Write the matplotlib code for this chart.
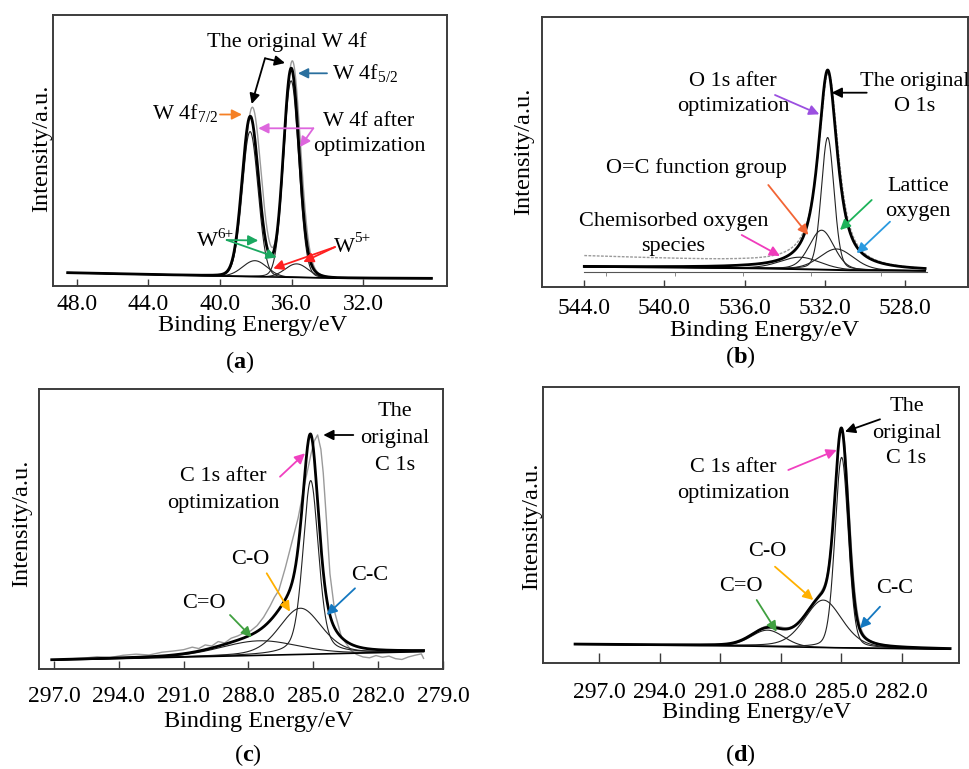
import numpy as np
import matplotlib
matplotlib.use("Agg")
import matplotlib.pyplot as plt

plt.rcParams['font.family'] = ['Liberation Serif', 'DejaVu Serif']
plt.rcParams['mathtext.fontset'] = 'custom'
plt.rcParams['mathtext.rm'] = 'Liberation Serif'
plt.rcParams['mathtext.it'] = 'Liberation Serif:italic'
plt.rcParams['mathtext.bf'] = 'Liberation Serif:bold'

# ---------------- data ----------------
# Panel (a): W 4f
a_ticks = [48.0, 44.0, 40.0, 36.0, 32.0]
a_range = [48.5, 28.2]
a_base_x = [48.5, 40.2, 33.5, 28.2]
a_base_y = [4.9, 3.7, 2.9, 2.8]
a_comp_center = [38.32, 36.03, 38.05, 35.72]
a_comp_height = [53.5, 72.5, 5.9, 5.0]
a_comp_fwhm = [1.05, 1.0, 1.6, 1.5]
a_comp_eta = [0.06, 0.06, 0.0, 0.0]
a_orig_center = [38.20, 35.97, 38.05, 35.72]
a_orig_height = [56.5, 75.0, 5.9, 5.0]
a_orig_fwhm = [1.12, 1.06, 1.6, 1.5]

# Panel (b): O 1s
b_ticks = [544.0, 540.0, 536.0, 532.0, 528.0]
b_range = [544.0, 527.0]
b_base_x = [544.0, 536.0, 533.0, 531.0, 527.0]
b_base_y = [7.5, 7.0, 6.6, 6.2, 6.0]
b_orig_base_y = [11.5, 9.4, 8.3, 6.4, 6.0]
b_comp_center = [531.86, 532.16, 531.41, 533.24]
b_comp_height = [49.0, 14.6, 7.8, 4.4]
b_comp_fwhm = [0.75, 1.45, 2.0, 2.4]
b_comp_eta = [0.2, 0.2, 0.2, 0.2]
b_env = [531.86, 74.0, 1.15, 0.85]      # center, height, fwhm, eta
b_orig = [531.82, 72.5, 1.2, 0.85]
b_inner_line_y = 5.67
b_inner_ticks = [542.9, 539.5, 536.1, 532.7, 529.2]

# Panel (c): C 1s
c_ticks = [297.0, 294.0, 291.0, 288.0, 285.0, 282.0, 279.0]
c_range = [297.1, 279.9]
c_base_x = [297.1, 279.9]
c_base_y = [3.2, 6.2]
c_comp_center = [285.12, 285.60, 287.50]
c_comp_height = [62.0, 16.5, 5.2]
c_comp_fwhm = [0.85, 2.3, 4.2]
c_comp_eta = [0.4, 0.3, 0.15]
c_orig_x = [297.1, 296.3, 295.6, 295.0, 294.4, 293.8, 293.2, 292.6, 292.0, 291.5,
            291.0, 290.6, 290.3, 290.0, 289.7, 289.4, 289.1, 288.8, 288.5, 288.2,
            287.9, 287.6, 287.3, 287.0, 286.8, 286.6, 286.3, 286.0, 285.7, 285.4,
            285.1, 284.95, 284.8, 284.65, 284.54, 284.39, 284.23, 284.0, 283.7, 283.24,
            283.0, 282.7, 282.4, 282.1, 281.8, 281.5, 281.2, 280.9, 280.6, 280.3,
            280.0, 279.9]
c_orig_y = [3.2, 3.6, 3.9, 4.4, 4.1, 4.9, 5.3, 5.0, 6.0, 6.4,
            6.9, 7.8, 7.3, 8.6, 8.2, 9.8, 9.3, 11.0, 11.8, 12.9,
            13.6, 15.5, 18.5, 22.5, 25.6, 28.0, 36.0, 45.0, 54.0, 66.0,
            77.0, 81.5, 83.6, 78.5, 70.0, 53.0, 34.0, 20.0, 11.5, 6.5,
            5.2, 4.3, 4.0, 4.8, 4.2, 4.6, 3.7, 3.4, 4.3, 4.9,
            5.4, 3.8]

# Panel (d): C 1s
d_ticks = [297.0, 294.0, 291.0, 288.0, 285.0, 282.0]
d_range = [298.2, 279.6]
d_base_x = [298.2, 290.0, 286.0, 279.6]
d_base_y = [6.8, 6.2, 5.6, 5.0]
d_comp_center = [284.98, 285.89, 288.65]
d_comp_height = [69.0, 17.2, 5.9]
d_comp_fwhm = [0.78, 2.2, 1.9]
d_comp_eta = [0.2, 0.3, 0.1]
d_orig_center = [284.95, 285.85, 288.6]
d_orig_height = [68.5, 18.0, 6.4]
d_orig_fwhm = [0.82, 2.2, 1.9]


def pv(x, c, h, w, eta):
    d = (x - c) / w
    return h * (eta / (1 + 4 * d * d) + (1 - eta) * np.exp(-4 * np.log(2) * d * d))


W, H = 969, 769
fig = plt.figure(figsize=(W / 100, H / 100), dpi=100)


def box(l, t, r, b):
    return [l / W, 1 - b / H, (r - l) / W, (b - t) / H]


def F(p):
    return (p[0] / W, 1 - p[1] / H)


FS_TXT = 16
FS_TICK = 17
FS_LAB = 17.5
SPINE = '#3c3c3c'


def style(ax, ticks, xlim, pad, tlen):
    ax.set_xlim(*xlim)
    ax.set_ylim(0, 100)
    ax.set_xticks(ticks)
    ax.set_xticklabels([f"{t:.1f}" for t in ticks])
    ax.set_yticks([])
    ax.tick_params(axis='x', direction='in', length=tlen, width=1.0, color=SPINE,
                   labelsize=FS_TICK, pad=pad)
    for s in ax.spines.values():
        s.set_color(SPINE)
        s.set_linewidth(1.4)


def label_block(lines, cx, ys, **kw):
    for s, y in zip(lines, ys):
        fig.text(cx / W, 1 - y / H, s, ha='center', va='center', fontsize=FS_TXT, **kw)


def ion(base_txt, sup, left, y):
    fig.text(left / W, 1 - y / H, base_txt, ha='left', va='center', fontsize=FS_TXT)
    fig.text((left + 20.5) / W, 1 - (y - 8) / H, sup, ha='left', va='center', fontsize=11)


def arrow(start, end, color, lw=1.3, ms=15):
    fig.add_artist(matplotlib.patches.FancyArrowPatch(
        F(start), F(end), transform=fig.transFigure, arrowstyle='-|>',
        color=color, lw=lw, mutation_scale=ms, shrinkA=0, shrinkB=0))


def axis_texts(xlab, ylab, plab):
    fig.text(xlab[0] / W, 1 - xlab[1] / H, 'Binding Energy/eV', ha='center', va='center',
             fontsize=FS_LAB)
    fig.text(ylab[0] / W, 1 - ylab[1] / H, 'Intensity/a.u.', ha='center', va='center',
             rotation=90, fontsize=FS_LAB)
    fig.text(plab[0] / W, 1 - plab[1] / H, '(' + r'$\mathbf{' + plab[2] + '}$' + ')',
             ha='center', va='center', fontsize=FS_LAB)


# ---------------- panel (a) ----------------
ax = fig.add_axes(box(53, 15, 447, 286))
style(ax, a_ticks, (49.32, 27.33), 6, 5)
x = np.linspace(a_range[0], a_range[1], 1500)
base = np.interp(x, a_base_x[::-1], a_base_y[::-1])
comps = [pv(x, c, h, w, e) for c, h, w, e in zip(a_comp_center, a_comp_height, a_comp_fwhm, a_comp_eta)]
orig = base + sum(pv(x, c, h, w, e) for c, h, w, e in zip(a_orig_center, a_orig_height, a_orig_fwhm, a_comp_eta))
ax.plot(x, orig, color='#9a9a9a', lw=1.0)
for cc in comps:
    ax.plot(x, base + cc, color='#222222', lw=0.8)
ax.plot(x, base + sum(comps), color='black', lw=2.0)
ax.plot(x, base, color='black', lw=1.2)

label_block(['The original W 4f'], 286.7, [41.7])
arrow((265, 58.3), (285, 63), 'black')
arrow((265, 58.3), (251.7, 104), 'black')
fig.text(331.7 / W, 1 - 73.3 / H, r'W 4f$_{5/2}$', ha='left', va='center', fontsize=FS_TXT)
arrow((327, 73.3), (298, 73.3), '#2a6f9e')
fig.text(218.3 / W, 1 - 113 / H, r'W 4f$_{7/2}$', ha='right', va='center', fontsize=FS_TXT)
arrow((220, 114.5), (242, 114.5), '#f58025')
label_block(['W 4f after', 'optimization'], 369, [121, 146.7])
arrow((313.3, 128.3), (258.3, 128.3), '#dd66dd')
arrow((313.3, 128.3), (300, 147), '#dd66dd')
ion('W', '6+', 197, 242)
arrow((226.7, 240), (258.3, 240.5), '#1aa860')
arrow((226.7, 240), (276.7, 257.5), '#1aa860')
ion('W', '5+', 334, 247)
arrow((335, 247), (303.3, 262), '#ff2020')
arrow((335, 247), (273.3, 268.5), '#ff2020')
axis_texts((253, 325), (42, 148), (240, 362, 'a'))

# ---------------- panel (b) ----------------
ax = fig.add_axes(box(542, 17, 968, 287))
style(ax, b_ticks, (546.11, 524.86), 8, 5)
x = np.linspace(b_range[0], b_range[1], 1500)
base = np.interp(x, b_base_x[::-1], b_base_y[::-1])
obase = np.interp(x, b_base_x[::-1], b_orig_base_y[::-1])
ax.plot([b_range[0], 526.9], [b_inner_line_y, b_inner_line_y], color='#555555', lw=0.8)
ax.vlines(b_inner_ticks, b_inner_line_y - 1.6, b_inner_line_y, color='#777777', lw=0.6)
ax.plot(x, obase + pv(x, *b_orig), color='#9a9a9a', lw=1.0, ls=(0, (2, 1)))
for c, h, w, e in zip(b_comp_center, b_comp_height, b_comp_fwhm, b_comp_eta):
    ax.plot(x, base + pv(x, c, h, w, e), color='#222222', lw=0.8)
ax.plot(x, base + pv(x, *b_env), color='black', lw=2.0)
ax.plot(x, base, color='black', lw=1.4)

label_block(['O 1s after', 'optimization'], 733.3, [81.7, 106.7])
arrow((775, 95), (819.3, 114.3), '#9b4fe0')
label_block(['The original', 'O 1s'], 915, [81.7, 106.7])
arrow((866.7, 92.7), (831.7, 92.7), 'black')
label_block(['O=C function group'], 696.7, [168.3])
arrow((768.3, 185), (808.3, 235), '#f26535')
label_block(['Lattice', 'oxygen'], 918.3, [186.7, 211.7])
arrow((871.7, 200), (840, 230), '#1db35a')
arrow((890, 221.7), (856.7, 253.3), '#2a9ae0')
label_block(['Chemisorbed oxygen', 'species'], 673.3, [221.7, 246.7])
arrow((741.7, 235), (780, 256), '#f03cbc')
axis_texts((765, 330), (523.3, 151.7), (740, 357, 'b'))

# ---------------- panel (c) ----------------
ax = fig.add_axes(box(39, 389, 443, 669))
style(ax, c_ticks, (297.69, 279.0), 12, 6)
x = np.linspace(c_range[0], c_range[1], 1500)
base = np.interp(x, c_base_x[::-1], c_base_y[::-1])
comps = [pv(x, c, h, w, e) for c, h, w, e in zip(c_comp_center, c_comp_height, c_comp_fwhm, c_comp_eta)]
ax.plot(c_orig_x, c_orig_y, color='#9a9a9a', lw=1.0)
for cc in comps:
    ax.plot(x, base + cc, color='#222222', lw=0.8)
ax.plot(x, base + sum(comps), color='black', lw=2.0)
ax.plot(x, base, color='black', lw=1.2)

label_block(['The', 'original', 'C 1s'], 395, [411.7, 438.3, 465])
arrow((353.3, 435), (323.3, 435), 'black')
label_block(['C 1s after', 'optimization'], 223, [476.7, 503.3])
arrow((280, 476.7), (305, 453.3), '#f040c0')
label_block(['C-O'], 250, [560])
arrow((266.7, 573.3), (290, 611.7), '#ffb000')
label_block(['C-C'], 370, [575])
arrow((355, 588.3), (326.7, 615), '#1478c0')
label_block(['C=O'], 204, [603.3])
arrow((230, 615), (251.7, 637.3), '#40a040')
axis_texts((258.3, 721), (21.7, 523.3), (248.3, 755, 'c'))

# ---------------- panel (d) ----------------
ax = fig.add_axes(box(543, 387, 959, 663))
style(ax, d_ticks, (299.79, 279.16), 13.5, 7)
x = np.linspace(d_range[0], d_range[1], 1500)
base = np.interp(x, d_base_x[::-1], d_base_y[::-1])
comps = [pv(x, c, h, w, e) for c, h, w, e in zip(d_comp_center, d_comp_height, d_comp_fwhm, d_comp_eta)]
orig = base + sum(pv(x, c, h, w, e) for c, h, w, e in zip(d_orig_center, d_orig_height, d_orig_fwhm, d_comp_eta))
ax.plot(x, orig, color='#9a9a9a', lw=1.0)
for cc in comps:
    ax.plot(x, base + cc, color='#222222', lw=0.8)
ax.plot(x, base + sum(comps), color='black', lw=2.0)
ax.plot(x, base, color='black', lw=1.2)

label_block(['The', 'original', 'C 1s'], 906.5, [406.7, 433.3, 458.3])
arrow((880, 419.3), (845, 431.7), 'black')
label_block(['C 1s after', 'optimization'], 733.3, [467.3, 493.3])
arrow((788.3, 470), (836.7, 450), '#f040c0')
label_block(['C-O'], 767.3, [551.7])
arrow((775, 566.7), (813.3, 600), '#ffb000')
label_block(['C=O'], 740.7, [586.7])
arrow((756.7, 600), (776.7, 631.7), '#40a040')
label_block(['C-C'], 895, [588.3])
arrow((880, 606.7), (860, 628.3), '#1478c0')
axis_texts((756.7, 712.5), (531.7, 526.7), (740, 755, 'd'))

fig.savefig('out.png', dpi=100, facecolor='white')
